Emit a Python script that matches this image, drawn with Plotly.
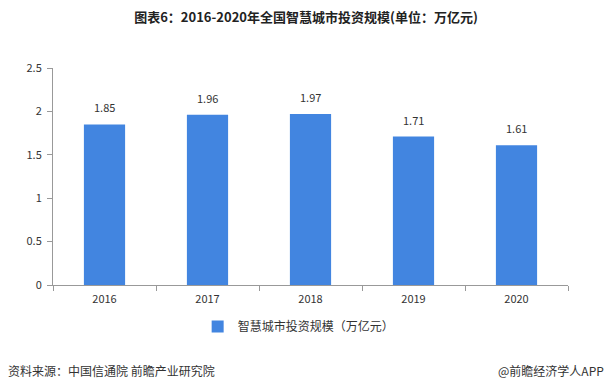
import plotly.graph_objects as go

years = ["2016", "2017", "2018", "2019", "2020"]
values = [1.85, 1.96, 1.97, 1.71, 1.61]
series_name = "智慧城市投资规模（万亿元）"
title = "图表6：2016-2020年全国智慧城市投资规模(单位：万亿元)"
source = "资料来源：中国信通院 前瞻产业研究院"
brand = "@前瞻经济学人APP"

font = "Microsoft YaHei, Noto Sans CJK SC, sans-serif"

fig = go.Figure()
fig.add_trace(go.Bar(
    x=years, y=values, name=series_name,
    marker=dict(color="#4285E0", line=dict(width=0)),
))
# value labels, positioned by category index on the category axis
for i, v in enumerate(values):
    fig.add_annotation(x=i, y=v, text=f"{v:.2f}", showarrow=False,
                       xanchor="center", yanchor="bottom", yshift=7,
                       font=dict(size=11, color="#333333", family=font))

fig.update_layout(
    width=612, height=392,
    margin=dict(l=53, r=44, t=68, b=107),
    paper_bgcolor="white", plot_bgcolor="white",
    bargap=0.6,
    showlegend=True,
    legend=dict(orientation="h", x=0.477, xanchor="center", y=-0.124, yanchor="top",
                font=dict(size=12, color="#333333", family=font)),
    title=dict(text="<b>" + title + "</b>", x=0.5, xanchor="center", y=0.955, yanchor="middle",
               font=dict(size=13, color="#222222", family=font)),
    font=dict(family=font, color="#333333"),
)
fig.update_yaxes(range=[0, 2.5], dtick=0.5, showgrid=False, showline=True,
                 linecolor="#999999", linewidth=1, ticks="outside", ticklen=5,
                 tickcolor="#999999", tickfont=dict(size=11, color="#333333"),
                 zeroline=False, tickformat="~g", ticklabelstandoff=3)
fig.update_xaxes(type="category", showline=True, linecolor="#999999", linewidth=1,
                 ticks="outside", tickson="boundaries", ticklen=5, tickcolor="#999999",
                 tickfont=dict(size=11, color="#333333"), ticklabelstandoff=4)

fig.add_annotation(text=source, xref="paper", yref="paper", x=-47/515, y=-(370-285)/217,
                   xanchor="left", yanchor="middle", showarrow=False,
                   font=dict(size=12, color="#333333", family=font))
fig.add_annotation(text=brand, xref="paper", yref="paper", x=(606-53)/515, y=-(370-285)/217,
                   xanchor="right", yanchor="middle", showarrow=False,
                   font=dict(size=12, color="#333333", family=font))

fig.write_html("out.html", config={"displayModeBar": False},
               post_script="document.body.style.margin='0';")
